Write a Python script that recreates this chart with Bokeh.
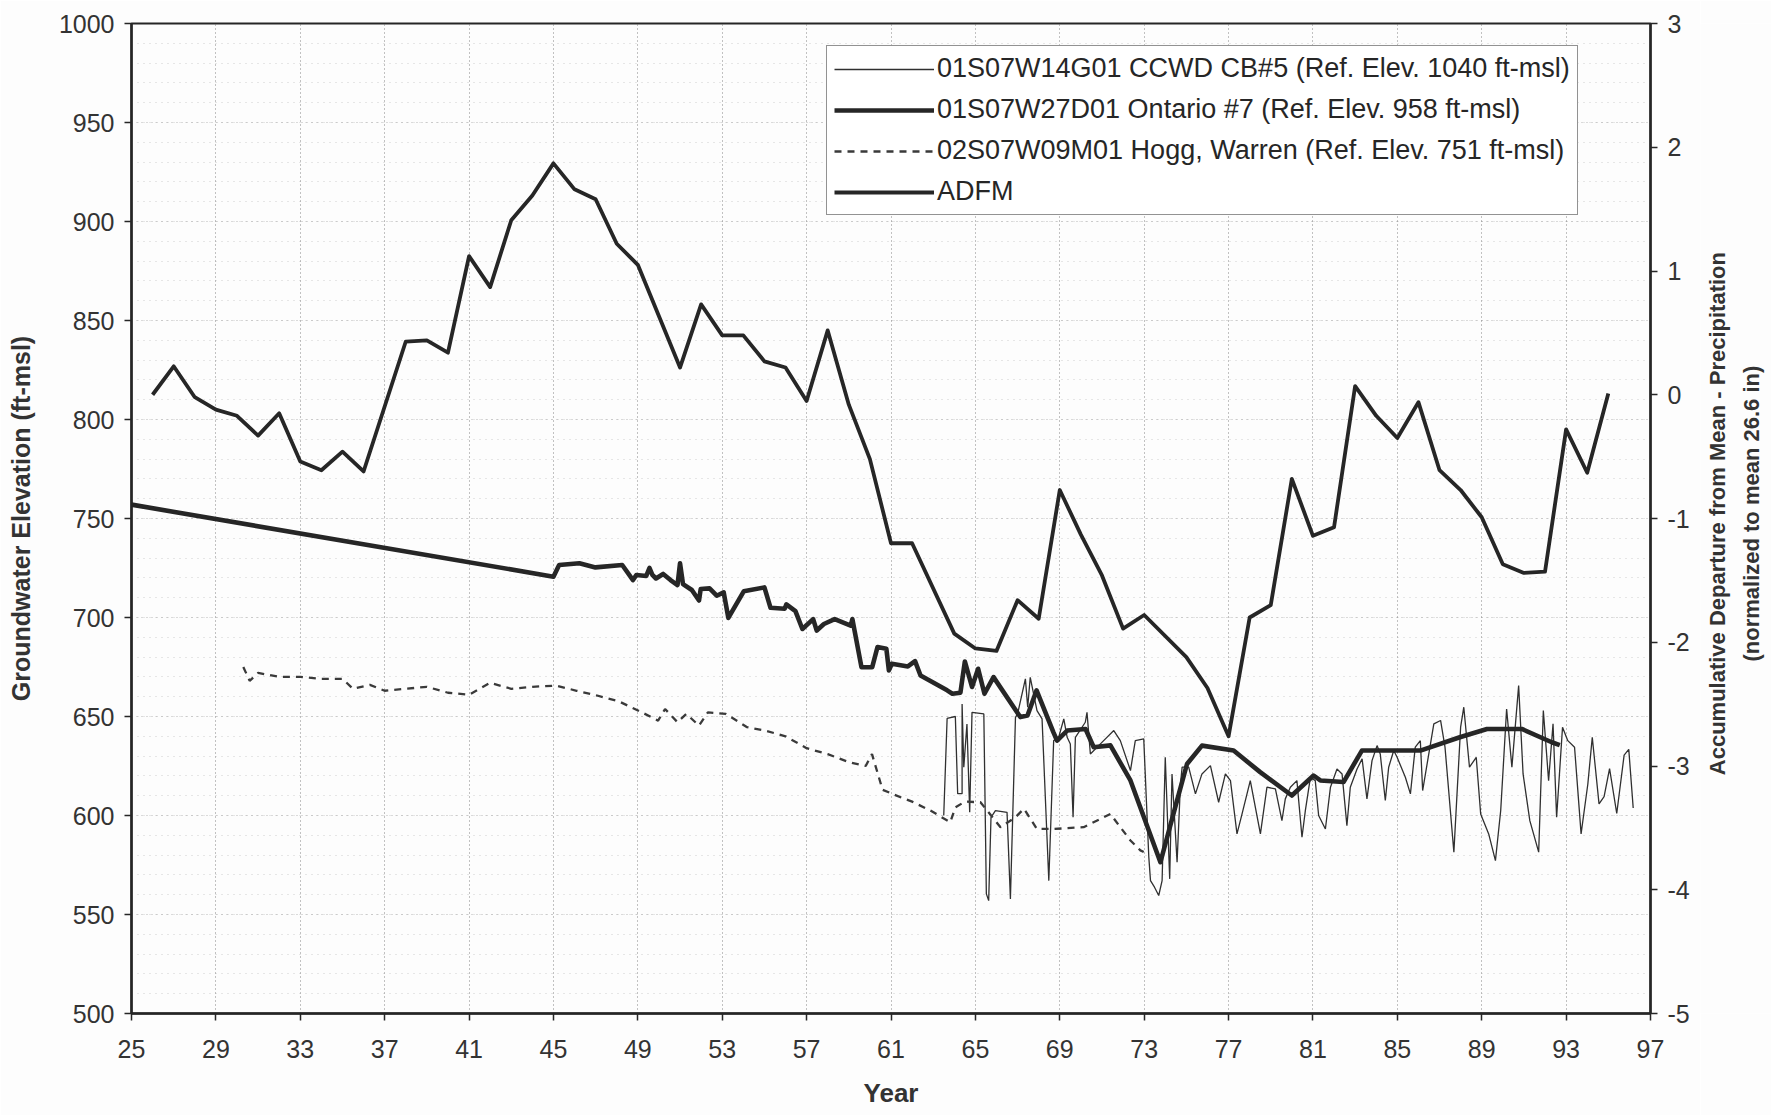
from bokeh.plotting import figure
from bokeh.layouts import row
from bokeh.models import Range1d, LinearAxis, FixedTicker, Legend, LegendItem
from bokeh.core.properties import value
from bokeh.embed import file_html
from bokeh.resources import INLINE

# ---------------- data ----------------
# ADFM: accumulative departure from mean precipitation (right axis units)
adfm_year = [26, 27, 28, 29, 30, 31, 32, 33, 34, 35, 36, 38, 39, 40, 41, 42, 43, 44,
             45, 46, 47, 48, 49, 51, 52, 53, 54, 55, 56, 57, 58, 59, 60, 61, 62, 64,
             65, 66, 67, 68, 69, 70, 71, 72, 73, 75, 76, 77, 78, 79, 80, 81, 82, 83,
             84, 85, 86, 87, 88, 89, 90, 91, 92, 93, 94, 95]
adfm_value = [0.0, 0.23, -0.02, -0.12, -0.17, -0.33, -0.15, -0.54, -0.61, -0.46, -0.62,
              0.43, 0.44, 0.34, 1.12, 0.87, 1.41, 1.61, 1.87, 1.66, 1.58, 1.22, 1.05,
              0.22, 0.73, 0.48, 0.48, 0.27, 0.22, -0.05, 0.52, -0.08, -0.52, -1.20,
              -1.20, -1.93, -2.05, -2.07, -1.66, -1.81, -0.77, -1.13, -1.46, -1.89,
              -1.78, -2.12, -2.37, -2.76, -1.80, -1.70, -0.68, -1.14, -1.07, 0.07,
              -0.17, -0.35, -0.06, -0.61, -0.77, -0.99, -1.37, -1.44, -1.43, -0.28,
              -0.63, 0.01]

# 01S07W27D01 Ontario #7
ont_year = [25.0, 45.0, 45.27, 46.23, 46.99, 48.26, 48.77, 48.93, 49.4, 49.55, 49.69,
            49.86, 50.2, 50.55, 50.88, 51.0, 51.14, 51.56, 51.9, 51.98, 52.4, 52.74,
            53.07, 53.29, 54.02, 55.0, 55.29, 55.96, 56.04, 56.47, 56.8, 57.31, 57.48,
            57.82, 58.33, 59.09, 59.17, 59.6, 60.11, 60.36, 60.78, 60.9, 61.04, 61.8,
            62.14, 62.4, 63.66, 63.91, 64.29, 64.5, 64.84, 65.13, 65.43, 65.86, 67.13,
            67.47, 67.9, 68.7, 68.87, 69.35, 70.22, 70.61, 71.4, 72.35, 73.77, 74.56,
            75.03, 75.74, 77.24, 78.5, 80.0, 81.03, 81.35, 82.45, 83.32, 86.09, 87.96,
            89.25, 90.9, 92.32, 92.7]
ont_elev = [757.0, 720.6, 726.5, 727.4, 725.3, 726.5, 718.9, 721.5, 721.0, 725.0, 721.5,
            719.7, 722.0, 718.9, 716.4, 727.4, 716.9, 713.9, 708.6, 714.4, 714.7, 711.0,
            712.7, 699.8, 713.2, 715.2, 704.9, 704.4, 706.6, 703.2, 694.2, 699.2, 693.4,
            696.7, 699.2, 695.9, 699.2, 674.9, 674.9, 685.1, 684.2, 673.3, 676.6, 675.3,
            678.0, 670.7, 663.2, 661.5, 662.0, 677.8, 664.9, 674.1, 661.5, 669.9, 649.7,
            650.5, 663.2, 642.0, 637.8, 642.9, 643.7, 634.5, 635.4, 617.7, 576.4, 607.6,
            626.0, 635.3, 632.8, 621.9, 610.1, 620.2, 617.7, 616.9, 632.8, 632.8, 639.5,
            643.7, 643.7, 637.0, 635.5]

# 02S07W09M01 Hogg, Warren
hogg_year = [30.3, 30.6, 31.0, 32.0, 33.0, 34.0, 35.0, 35.5, 36.3, 37.0, 38.0, 39.0,
             40.0, 41.0, 42.0, 43.0, 44.0, 45.13, 46.1, 47.07, 48.09, 49.19, 49.96,
             50.29, 50.88, 51.3, 51.9, 52.32, 53.17, 54.18, 55.0, 56.0, 57.0, 58.0,
             59.0, 59.8, 60.1, 60.6, 61.5, 62.0, 62.87, 63.81, 64.05, 64.5, 65.24,
             66.19, 66.9, 67.3, 67.92, 68.71, 70.13, 71.08, 71.4, 71.87, 72.35, 72.82,
             72.98]
hogg_elev = [675, 668, 672, 670, 670, 669, 669, 664, 666, 663, 664, 665, 662, 661, 667,
             664, 665, 665.6, 663, 660.6, 657.7, 652.1, 647.9, 653.8, 647.1, 651.3,
             645.4, 652.1, 651.3, 644.6, 643, 640, 634, 631, 627, 625, 631, 613, 609,
             607, 602.5, 596.6, 604.1, 607, 606.7, 594.1, 599.1, 603.4, 593.2, 593.2,
             594.1, 599.1, 600.8, 594.1, 587.4, 582.4, 581.6]

# 01S07W14G01 CCWD CB#5
ccwd_year = [63.50, 63.66, 64.05, 64.16, 64.37, 64.37, 64.45, 64.60, 64.73, 64.84,
             65.40, 65.52, 65.63, 65.74, 65.95, 66.50, 66.66, 66.90, 67.00, 67.37,
             67.48, 67.60, 67.92, 68.16, 68.48, 68.71, 68.95, 69.19, 69.35, 69.50,
             69.63, 69.74, 70.21, 70.29, 70.45, 71.08, 71.56, 71.87, 72.35, 72.58,
             72.98, 73.22, 73.30, 73.49, 73.69, 73.85, 74.00, 74.21, 74.32, 74.56,
             74.72, 74.80, 75.11, 75.43, 75.74, 76.14, 76.53, 76.85, 77.09, 77.40,
             77.64, 78.03, 78.51, 78.82, 79.22, 79.53, 79.69, 79.93, 80.24, 80.48,
             80.64, 80.88, 81.11, 81.27, 81.59, 81.83, 82.14, 82.38, 82.61, 82.77,
             83.09, 83.33, 83.56, 83.80, 84.04, 84.19, 84.43, 84.59, 84.83, 84.99,
             85.38, 85.62, 85.85, 86.09, 86.20, 86.73, 87.05, 87.26, 87.68, 88.00,
             88.15, 88.42, 88.74, 88.95, 89.33, 89.65, 89.90, 90.18, 90.43, 90.75,
             90.96, 91.28, 91.70, 91.92, 92.17, 92.38, 92.55, 92.83, 93.08, 93.40,
             93.71, 94.03, 94.24, 94.56, 94.80, 95.06, 95.40, 95.75, 95.97, 96.18]
ccwd_elev = [600.0, 649.0, 650.0, 611.0, 611.0, 656.3, 624.4, 646.2, 601.6, 652.1,
             651.3, 560.4, 557.0, 599.1, 602.5, 601.6, 557.9, 649.6, 651.3, 669.0,
             654.7, 669.8, 653.0, 648.8, 567.1, 637.8, 639.5, 648.8, 639.5, 636.1,
             599.1, 639.5, 647.1, 652.1, 631.1, 637.8, 642.9, 637.8, 622.7, 637.8,
             638.7, 579.0, 567.1, 563.8, 559.6, 567.1, 629.4, 568.0, 621.0, 576.4,
             616.0, 624.4, 624.4, 610.9, 621.0, 625.2, 606.7, 621.0, 617.6, 590.7,
             600.8, 617.6, 590.7, 614.3, 613.4, 597.4, 608.4, 614.3, 617.6, 589.0,
             602.5, 619.3, 617.6, 600.0, 593.2, 614.3, 623.5, 621.0, 594.9, 614.3,
             623.5, 628.6, 608.4, 627.7, 635.3, 631.1, 607.6, 624.4, 632.8, 629.4,
             619.3, 610.9, 634.5, 637.8, 612.6, 646.3, 648.0, 634.5, 581.5, 644.6,
             654.7, 624.4, 629.4, 600.8, 590.7, 577.2, 602.5, 653.8, 624.4, 665.6,
             621.0, 597.4, 581.5, 653.0, 617.6, 646.3, 599.1, 644.6, 637.8, 634.5,
             590.7, 615.9, 639.5, 605.9, 609.5, 623.7, 601.0, 630.5, 633.4, 603.8]

x_ticks = list(range(25, 98, 4))
left_ticks = list(range(500, 1001, 50))
left_minor = list(range(500, 1001, 10))
right_ticks = list(range(-5, 4))

labels = ["01S07W14G01 CCWD CB#5 (Ref. Elev. 1040 ft-msl)",
          "01S07W27D01 Ontario #7 (Ref. Elev. 958 ft-msl)",
          "02S07W09M01 Hogg, Warren (Ref. Elev. 751 ft-msl)",
          "ADFM"]
right_title = ["Accumulative Departure from Mean - Precipitation",
               "(normalized to mean 26.6 in)"]

# ---------------- figure ----------------
INK = "#262626"
FONT = "Liberation Sans"
BG = "#fdfdfd"

p = figure(width=1700, height=1115, output_backend="svg", toolbar_location=None,
           x_range=Range1d(25, 97), y_range=Range1d(500, 1000),
           min_border_left=131, min_border_right=50, min_border_top=23,
           min_border_bottom=102)
p.extra_y_ranges = {"adfm": Range1d(-5, 3)}
p.background_fill_color = BG
p.border_fill_color = BG
p.outline_line_color = INK
p.outline_line_width = 2

r_ccwd = p.line(ccwd_year, ccwd_elev, line_width=1.3, line_color="#303030")
r_ont = p.line(ont_year, ont_elev, line_width=4.6, line_color=INK, line_join="round")
r_hogg = p.line(hogg_year, hogg_elev, line_width=2.3, line_color="#3a3a3a", line_dash="7 6")
r_adfm = p.line(adfm_year, adfm_value, y_range_name="adfm", line_width=3.8,
                line_color=INK, line_join="round")

# x axis
xa = p.below[0]
xa.ticker = FixedTicker(ticks=x_ticks)
xa.axis_label = "Year"

# left axis
ya = p.left[0]
ya.ticker = FixedTicker(ticks=left_ticks, minor_ticks=left_minor)
ya.axis_label = "Groundwater Elevation (ft-msl)"

# right axis (ADFM)
ra = LinearAxis(y_range_name="adfm", ticker=FixedTicker(ticks=right_ticks))
ra.major_label_overrides = {t: str(t) for t in right_ticks}

for ax in (xa, ya, ra):
    ax.axis_line_color = INK
    ax.axis_line_width = 2.5
    ax.major_tick_in = 0
    ax.major_tick_out = 7
    ax.major_tick_line_color = INK
    ax.major_tick_line_width = 1.5
    ax.minor_tick_in = 0
    ax.minor_tick_out = 0
    ax.major_label_text_font = FONT
    ax.major_label_text_font_size = "25px"
    ax.major_label_text_color = "#333333"
    ax.major_label_standoff = 10
    ax.axis_label_text_font = FONT
    ax.axis_label_text_font_style = "bold"
    ax.axis_label_text_color = "#333333"

xa.major_label_standoff = 19
xa.axis_label_text_font_size = "26px"
xa.axis_label_standoff = 17
ya.axis_label_text_font_size = "25px"
ya.axis_label_standoff = 21
p.add_layout(ra, "right")

# grids
p.xgrid.grid_line_color = "#666666"
p.xgrid.grid_line_dash = "1 3"
p.xgrid.grid_line_width = 1
p.xgrid.grid_line_alpha = 0.8
p.ygrid.grid_line_color = "#888888"
p.ygrid.grid_line_dash = "1 4"
p.ygrid.grid_line_alpha = 0.6
p.ygrid.minor_grid_line_color = "#999999"
p.ygrid.minor_grid_line_dash = "1 5"
p.ygrid.minor_grid_line_alpha = 0.45

# legend
legend = Legend(items=[LegendItem(label=labels[0], renderers=[r_ccwd]),
                       LegendItem(label=labels[1], renderers=[r_ont]),
                       LegendItem(label=labels[2], renderers=[r_hogg]),
                       LegendItem(label=labels[3], renderers=[r_adfm])],
                location=(695, 798))
legend.border_line_color = INK
legend.border_line_width = 1.5
legend.background_fill_color = "#ffffff"
legend.background_fill_alpha = 1.0
legend.label_text_font = FONT
legend.label_text_font_size = "27px"
legend.label_text_color = "#262626"
legend.glyph_width = 100
legend.glyph_height = 30
legend.label_height = 30
legend.spacing = 10
legend.padding = 7
legend.margin = 0
legend.label_standoff = 3
p.add_layout(legend)

# ---------------- side strip for the two-line right-hand axis title ----------------
s = figure(width=71, height=1115, output_backend="svg", toolbar_location=None,
           x_range=Range1d(0, 71), y_range=Range1d(0, 1115),
           x_axis_type=None, y_axis_type=None,
           min_border_left=0, min_border_right=0, min_border_top=0, min_border_bottom=0)
s.background_fill_color = BG
s.border_fill_color = BG
s.outline_line_color = None
s.grid.visible = False
s.text(x=[17, 51], y=[563, 563], text=right_title, angle=90, angle_units="deg",
       text_align="center", text_baseline="middle", text_font=value(FONT),
       text_font_style="bold", text_font_size="22px", text_color="#333333")

layout = row(p, s, spacing=0)
open("out.html", "w").write(file_html(layout, INLINE))
